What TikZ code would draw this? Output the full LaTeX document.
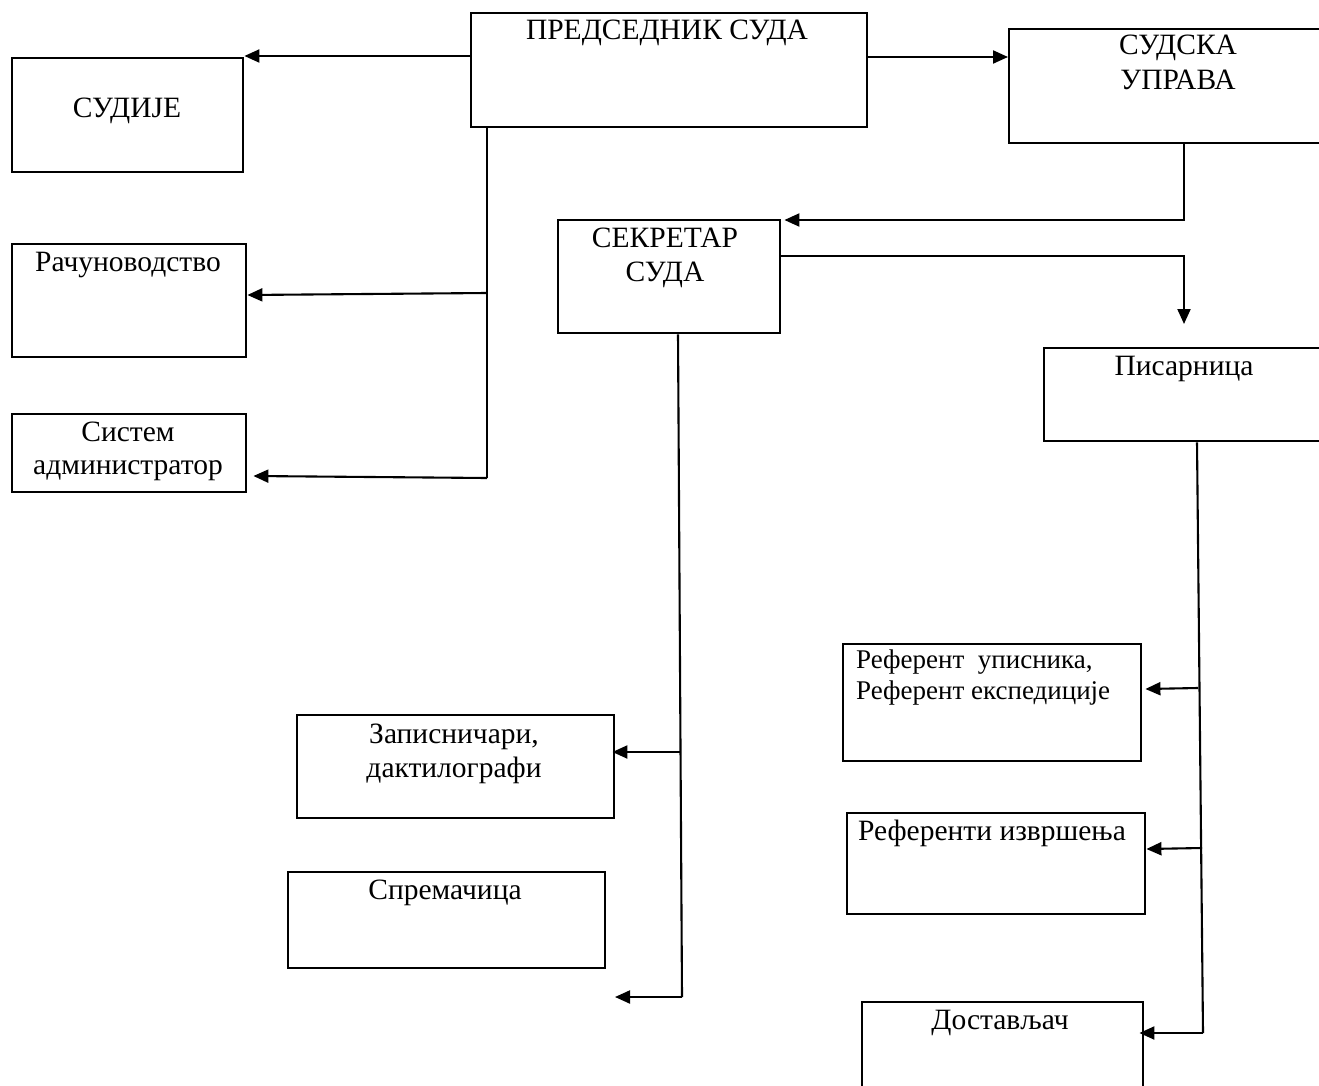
\documentclass[tikz,border=0pt]{standalone}
\usepackage{fontspec}
\setmainfont{Liberation Serif}
\usetikzlibrary{arrows.meta}
\tikzset{
  box/.style={draw, line width=2.4pt, anchor=north west, inner sep=0pt},
  txt/.style={inner sep=0pt, font=\fontsize{29.5}{34}\selectfont, align=center},
  reftxt/.style={inner sep=0pt, font=\fontsize{27}{31}\selectfont, align=left},
  conn/.style={line width=2.1pt},
  thinconn/.style={line width=1.6pt},
  arr/.style={line width=2.1pt, -{Triangle[length=15pt,width=13pt]}}
}
\begin{document}
\begin{tikzpicture}[x=1pt,y=-1pt]
\useasboundingbox (0,0) rectangle (1319,1086);
% boxes
\node[box, minimum width=396, minimum height=114] (pres) at (470,12) {};
\node[box, minimum width=231, minimum height=114] (sud) at (11,57) {};
\node[box, minimum width=330, minimum height=114] (uprava) at (1008,28) {};
\node[box, minimum width=234, minimum height=113] (rac) at (11,243) {};
\node[box, minimum width=234, minimum height=78] (sys) at (11,413) {};
\node[box, minimum width=222, minimum height=113] (sek) at (557,219) {};
\node[box, minimum width=290, minimum height=93] (pis) at (1043,347) {};
\node[box, minimum width=298, minimum height=117] (ref1) at (842,643) {};
\node[box, minimum width=298, minimum height=101] (ref2) at (846,812) {};
\node[box, minimum width=281, minimum height=100] (dost) at (861,1001) {};
\node[box, minimum width=317, minimum height=103] (zap) at (296,714) {};
\node[box, minimum width=317, minimum height=96] (spr) at (287,871) {};
% texts (anchor=base is the baseline of the last line)
\node[txt, anchor=base] (pres-t) at (667,40) {ПРЕДСЕДНИК СУДА};
\node[txt, anchor=base] (sud-t) at (127,118) {СУДИЈЕ};
\node[txt, anchor=base] (uprava-t) at (1178,90) {СУДСКА\\[1pt]УПРАВА};
\node[txt, anchor=base] (rac-t) at (128,271) {Рачуноводство};
\node[txt, anchor=base] (sys-t) at (128,474) {Систем\\[-1pt]администратор};
\node[txt, anchor=base] (sek-t) at (665,281) {СЕКРЕТАР\\СУДА};
\node[txt, anchor=base] (pis-t) at (1184,375) {Писарница};
\node[reftxt, anchor=base west] (ref1-t) at (856,699) {Референт\ \ уписника,\\Референт експедиције};
\node[txt, anchor=base] (ref2-t) at (992,840) {Референти извршења};
\node[txt, anchor=base] (dost-t) at (1000,1029) {Достављач};
\node[txt, anchor=base] (zap-t) at (454,777) {Записничари,\\дактилографи};
\node[txt, anchor=base] (spr-t) at (445,899) {Спремачица};
% junction coordinates
\coordinate (pj1) at (487,293);
\coordinate (pj2) at (487,478);
\coordinate (uj) at (1184,220);
\coordinate (sj) at (1184,256);
\coordinate (kj1) at (681,752);
\coordinate (kj2) at (682,997);
\coordinate (kend) at (615,997);
\coordinate (wj1) at (1198,688);
\coordinate (wj2) at (1202,848);
\coordinate (wj3) at (1203,1033);
% connectors
\draw[arr] (pres.west |- 0,56) -- (sud.east |- 0,56);
\draw[arr] (pres.east |- 0,57) -- (uprava.west |- 0,57);
\draw[thinconn] (pres.south -| pj1) -- (pj2);
\draw[arr] (pj1) -- (rac.east |- 0,295);
\draw[arr] (pj2) -- ([xshift=6pt]sys.east |- 0,476);
\draw[arr] (uprava.south -| uj) -- (uj) -- ([xshift=3pt]sek.east |- uj);
\draw[arr, shorten >=23pt] (sek.east |- sj) -- (sj) -- (pis.north -| sj);
\draw[conn] (sek.south -| 678,0) -- (kj2);
\draw[arr] (kj1) -- ([xshift=-3pt]zap.east |- kj1);
\draw[arr] (kj2) -- (kend);
\draw[conn] (pis.south -| 1197,0) -- (wj3);
\draw[arr] (wj1) -- ([xshift=3pt]ref1.east |- 0,689);
\draw[arr] (wj2) -- (ref2.east |- 0,849);
\draw[arr] (wj3) -- ([xshift=-5pt]dost.east |- wj3);
\end{tikzpicture}
\end{document}
